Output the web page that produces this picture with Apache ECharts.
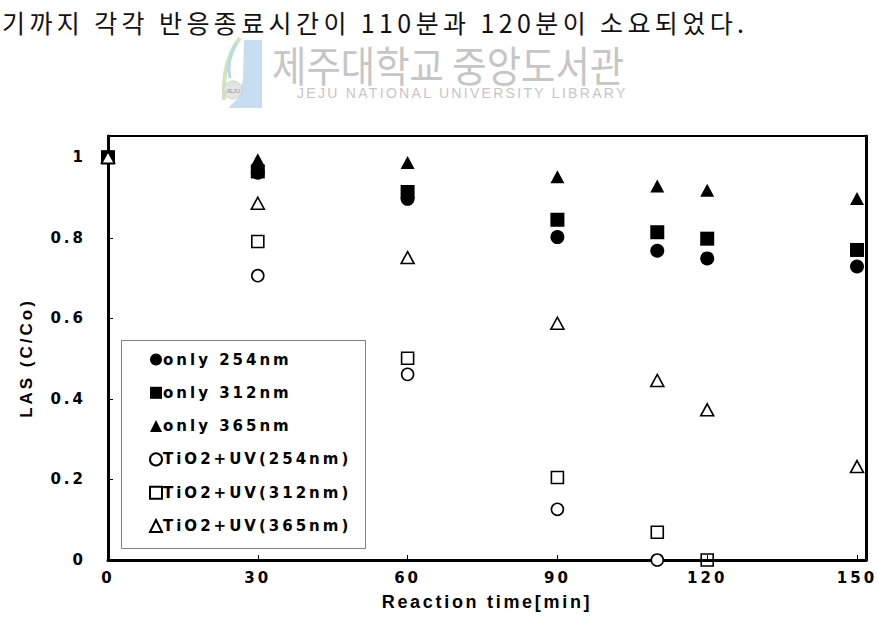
<!DOCTYPE html>
<html><head><meta charset="utf-8">
<script src="https://cdn.jsdelivr.net/npm/echarts@6/dist/echarts.min.js"></script>
<style>
html,body{margin:0;padding:0;background:#fff;}
#chart{width:878px;height:638px;}
#chart text[style*="15px"]{letter-spacing:3px;}
#chart text[style*="18px"]{letter-spacing:2.7px;}
#chart text[style*="17px"]{letter-spacing:3px;}
#chart text[style*="25px"]{letter-spacing:4.4px;}
#chart text[style*="14px"]{letter-spacing:2.3px;}
</style></head>
<body><div id="chart"></div>
<script>
// ---- data ----
const times = [0, 30, 60, 90, 110, 120, 150];
const xTicks = [0, 30, 60, 90, 120, 150];
const yTicks = [0, 0.2, 0.4, 0.6, 0.8, 1];
const seriesNames = ['only 254nm', 'only 312nm', 'only 365nm', 'TiO2+UV(254nm)', 'TiO2+UV(312nm)', 'TiO2+UV(365nm)'];
const only254 = [1, 0.962, 0.897, 0.802, 0.768, 0.749, 0.729];
const only312 = [1, 0.965, 0.914, 0.845, 0.814, 0.798, 0.770];
const only365 = [1, 0.994, 0.987, 0.952, 0.929, 0.918, 0.898];
const tio254 = [1, 0.706, 0.461, 0.126, 0];
const tio312 = [1, 0.791, 0.501, 0.205, 0.069, 0];
const tio365 = [1, 0.886, 0.751, 0.588, 0.446, 0.373, 0.232];
const headerText = '기까지 각각 반응종료시간이 110분과 120분이 소요되었다.';
const wmTitle = '제주대학교 중앙도서관';
const wmSub = 'JEJU NATIONAL UNIVERSITY LIBRARY';
const xName = 'Reaction time[min]';
const yName = 'LAS (C/Co)';

// ---- styles ----
const valueSets = [only254, only312, only365, tio254, tio312, tio365];
const styles = [
  {symbol: 'circle', size: 14, color: '#000', border: 0, z: 3},
  {symbol: 'rect', size: 14, color: '#000', border: 0, z: 4},
  {symbol: 'triangle', size: [14, 13], color: '#000', border: 0, z: 3},
  {symbol: 'circle', size: 12, color: '#fff', border: 1.6, z: 2},
  {symbol: 'rect', size: 12, color: 'rgba(255,255,255,0)', border: 1.6, z: 2},
  {symbol: 'triangle', size: [13, 12], color: '#fff', border: 1.6, z: 5}
];

const series = valueSets.map((ys, k) => ({
  name: seriesNames[k],
  type: 'scatter',
  symbol: styles[k].symbol,
  symbolSize: styles[k].size,
  z: styles[k].z,
  clip: false,
  itemStyle: {color: styles[k].color, borderColor: '#000', borderWidth: styles[k].border, opacity: 1},
  emphasis: {disabled: true},
  data: ys.map((y, i) => [times[i], y])
}));

const tickFont = {fontFamily: 'DejaVu Sans', fontWeight: 'bold', fontSize: 15, color: '#000'};
const xMax = 151.8, yMax = 1.053;

const chart = echarts.init(document.getElementById('chart'), null, {renderer: 'svg', width: 878, height: 638});
chart.setOption({
  animation: false,
  backgroundColor: '#fff',
  grid: {left: 108, right: 12, top: 136, bottom: 78, show: true, borderColor: '#000', borderWidth: 2, backgroundColor: 'transparent'},
  xAxis: {
    type: 'value', min: 0, max: xMax, interval: 30,
    name: xName, nameLocation: 'middle', nameGap: 33,
    nameTextStyle: {fontFamily: 'Liberation Sans', fontWeight: 'bold', fontSize: 18, color: '#000'},
    axisLine: {show: true, lineStyle: {color: '#000', width: 3}},
    axisTick: {show: true, inside: true, length: 5, lineStyle: {color: '#000', width: 1}},
    axisLabel: Object.assign({margin: 10, showMaxLabel: false,
      formatter: v => xTicks.includes(v) ? String(v) : ''}, tickFont),
    splitLine: {show: false}
  },
  yAxis: [{
    type: 'value', min: 0, max: yMax, interval: 0.2,
    name: yName, nameLocation: 'middle', nameGap: 73,
    nameTextStyle: {fontFamily: 'Liberation Sans', fontWeight: 'bold', fontSize: 17, color: '#000', padding: [0, 20, 0, 0]},
    axisLine: {show: true, lineStyle: {color: '#000', width: 3}},
    axisTick: {show: true, inside: true, length: 5, lineStyle: {color: '#000', width: 1}},
    axisLabel: Object.assign({margin: 22, showMaxLabel: false,
      formatter: v => yTicks.some(t => Math.abs(t - v) < 1e-9) ? String(Math.round(v * 10) / 10) : ''}, tickFont),
    splitLine: {show: false}
  }, {
    type: 'value', min: 0, max: yMax, position: 'right',
    axisLine: {show: true, lineStyle: {color: '#000', width: 3}},
    axisTick: {show: false}, axisLabel: {show: false}, splitLine: {show: false}
  }],
  legend: {
    orient: 'vertical', left: 149, top: 352, padding: 0,
    itemWidth: 12, itemHeight: 12, itemGap: 18.3,
    selectedMode: false,
    textStyle: {fontFamily: 'DejaVu Sans', fontWeight: 'bold', fontSize: 15, color: '#000', padding: [0, 0, 0, -4]},
    data: seriesNames
  },
  graphic: [
    {type: 'rect', z: 1, shape: {x: 121.5, y: 340.5, width: 244, height: 208},
      style: {fill: 'transparent', stroke: '#808080', lineWidth: 1}},
    {type: 'text', left: 2, top: 9, style: {text: headerText, fontFamily: 'Noto Sans CJK KR', fontSize: 25, fill: '#111'}},
    // watermark logo
    {type: 'polygon', shape: {points: [[244, 40], [262, 40], [262, 108], [228, 108], [238, 98], [243, 80]]},
      style: {fill: '#c7ddf2'}},
    {type: 'bezierCurve', shape: {x1: 240, y1: 38, x2: 224, y2: 100, cpx1: 222, cpy1: 60}, style: {fill: 'none', stroke: '#cfe6b8', lineWidth: 4}},
    {type: 'bezierCurve', shape: {x1: 236, y1: 44, x2: 230, y2: 78, cpx1: 226, cpy1: 62}, style: {fill: 'none', stroke: '#b9d7ee', lineWidth: 3}},
    {type: 'circle', shape: {cx: 233, cy: 90, r: 9}, style: {fill: '#e4e4e4', stroke: '#d0d0d0', lineWidth: 1}},
    {type: 'text', x: 233, y: 91, style: {text: 'JEJU', fontFamily: 'Liberation Sans', fontSize: 6, fill: '#999', align: 'center', verticalAlign: 'middle'}},
    {type: 'text', x: 272, y: 42.5, scaleX: 0.89, style: {text: wmTitle, fontFamily: 'Noto Sans CJK KR', fontSize: 42, fill: '#c6c6c6', verticalAlign: 'top'}},
    {type: 'text', left: 297, top: 86, style: {text: wmSub, fontFamily: 'Liberation Sans', fontSize: 14, fill: '#c6c6c6'}}
  ],
  series: series
});
</script>
</body></html>
